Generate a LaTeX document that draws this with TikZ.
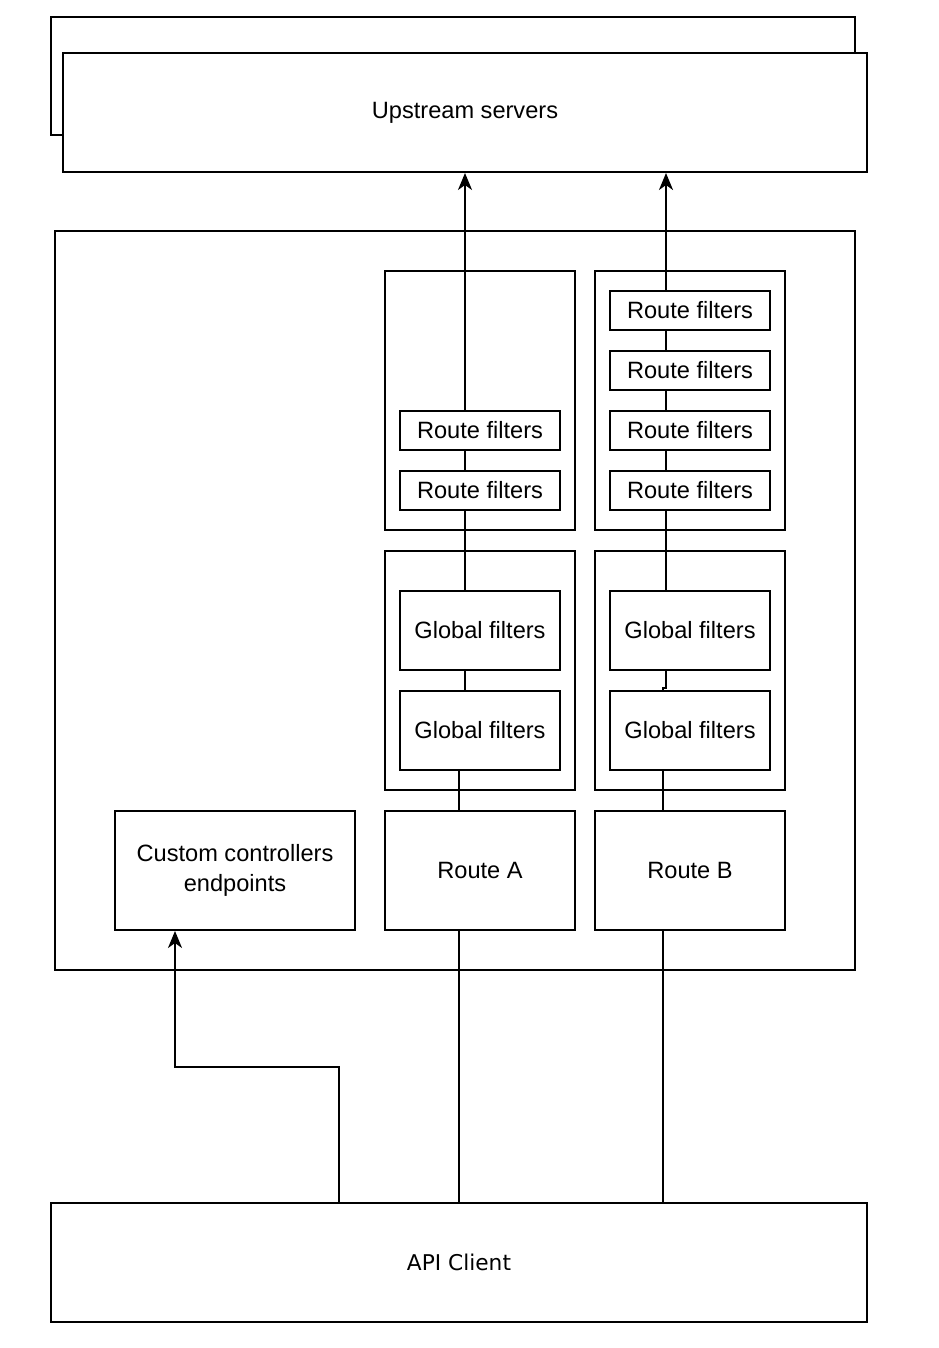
\documentclass[tikz,border=0pt]{standalone}
\usepackage{fontspec}
\setmainfont{Liberation Sans}
\newfontfamily\apifont{DejaVu Sans}
\usetikzlibrary{arrows.meta}
\begin{document}
\begin{tikzpicture}[x=1pt,y=-1pt,
  box/.style={draw=black,line width=2pt,fill=white,inner sep=0pt,align=center,font=\fontsize{23.6}{30}\selectfont},
  wire/.style={draw=black,line width=2pt},
  arr/.style={wire,-{Stealth[length=17pt,width=14pt,inset=5pt]}}]
\useasboundingbox (0,0) rectangle (938,1348);
\fill[white] (0,0) rectangle (938,1348);
% upstream (stacked)
\node[box,minimum width=804,minimum height=118] (upback) at (453,76) {};
\node[box,minimum width=804,minimum height=119] (up) at (465,112.5) {Upstream servers};
% outer container
\node[box,minimum width=800,minimum height=739] (outer) at (455,600.5) {};
% containers
\node[box,minimum width=190,minimum height=259] (rcA) at (480,400.5) {};
\node[box,minimum width=190,minimum height=259] (rcB) at (690,400.5) {};
\node[box,minimum width=190,minimum height=239] (gcA) at (480,670.5) {};
\node[box,minimum width=190,minimum height=239] (gcB) at (690,670.5) {};
% route filters A
\node[box,minimum width=160,minimum height=39] (ra1) at (480,430.5) {Route filters};
\node[box,minimum width=160,minimum height=39] (ra2) at (480,490.5) {Route filters};
% route filters B
\node[box,minimum width=160,minimum height=39] (rb1) at (690,310.5) {Route filters};
\node[box,minimum width=160,minimum height=39] (rb2) at (690,370.5) {Route filters};
\node[box,minimum width=160,minimum height=39] (rb3) at (690,430.5) {Route filters};
\node[box,minimum width=160,minimum height=39] (rb4) at (690,490.5) {Route filters};
% global filters
\node[box,minimum width=160,minimum height=79] (ga1) at (480,630.5) {Global filters};
\node[box,minimum width=160,minimum height=79] (ga2) at (480,730.5) {Global filters};
\node[box,minimum width=160,minimum height=79] (gb1) at (690,630.5) {Global filters};
\node[box,minimum width=160,minimum height=79] (gb2) at (690,730.5) {Global filters};
% routes
\node[box,minimum width=190,minimum height=119] (routeA) at (480,870.5) {Route A};
\node[box,minimum width=190,minimum height=119] (routeB) at (690,870.5) {Route B};
\node[box,minimum width=240,minimum height=119] (custom) at (235,870.5) {Custom controllers\\endpoints};
% API client
\node[box,minimum width=816,minimum height=119,font=\apifont\fontsize{21.7}{26}\selectfont] (api) at (459,1262.5) {API Client};
% x coordinates
\coordinate (xA) at (459,0);
\coordinate (xAu) at (465,0);
\coordinate (xB) at (663,0);
\coordinate (xBu) at (666,0);
\coordinate (xC) at (339,0);
\coordinate (xCu) at (175,0);
\coordinate (bend) at (339,1067);
\coordinate (jog) at (663,688);
% Route A path
\draw[wire] (api.north -| xA) -- (routeA.south -| xA);
\draw[wire] (routeA.north -| xA) -- (ga2.south -| xA);
\draw[wire] (ga2.north -| xAu) -- (ga1.south -| xAu);
\draw[wire] (ga1.north -| xAu) -- (ra2.south -| xAu);
\draw[wire] (ra2.north -| xAu) -- (ra1.south -| xAu);
\draw[arr] (ra1.north -| xAu) -- (up.south -| xAu);
% Route B path
\draw[wire] (api.north -| xB) -- (routeB.south -| xB);
\draw[wire] (routeB.north -| xB) -- (gb2.south -| xB);
\draw[wire] (gb2.north -| xB) -- (jog) -- (jog -| xBu) -- (gb1.south -| xBu);
\draw[wire] (gb1.north -| xBu) -- (rb4.south -| xBu);
\draw[wire] (rb4.north -| xBu) -- (rb3.south -| xBu);
\draw[wire] (rb3.north -| xBu) -- (rb2.south -| xBu);
\draw[wire] (rb2.north -| xBu) -- (rb1.south -| xBu);
\draw[arr] (rb1.north -| xBu) -- (up.south -| xBu);
% custom path
\draw[arr] (api.north -| xC) -- (bend) -- (bend -| xCu) -- (custom.south -| xCu);
\end{tikzpicture}
\end{document}
